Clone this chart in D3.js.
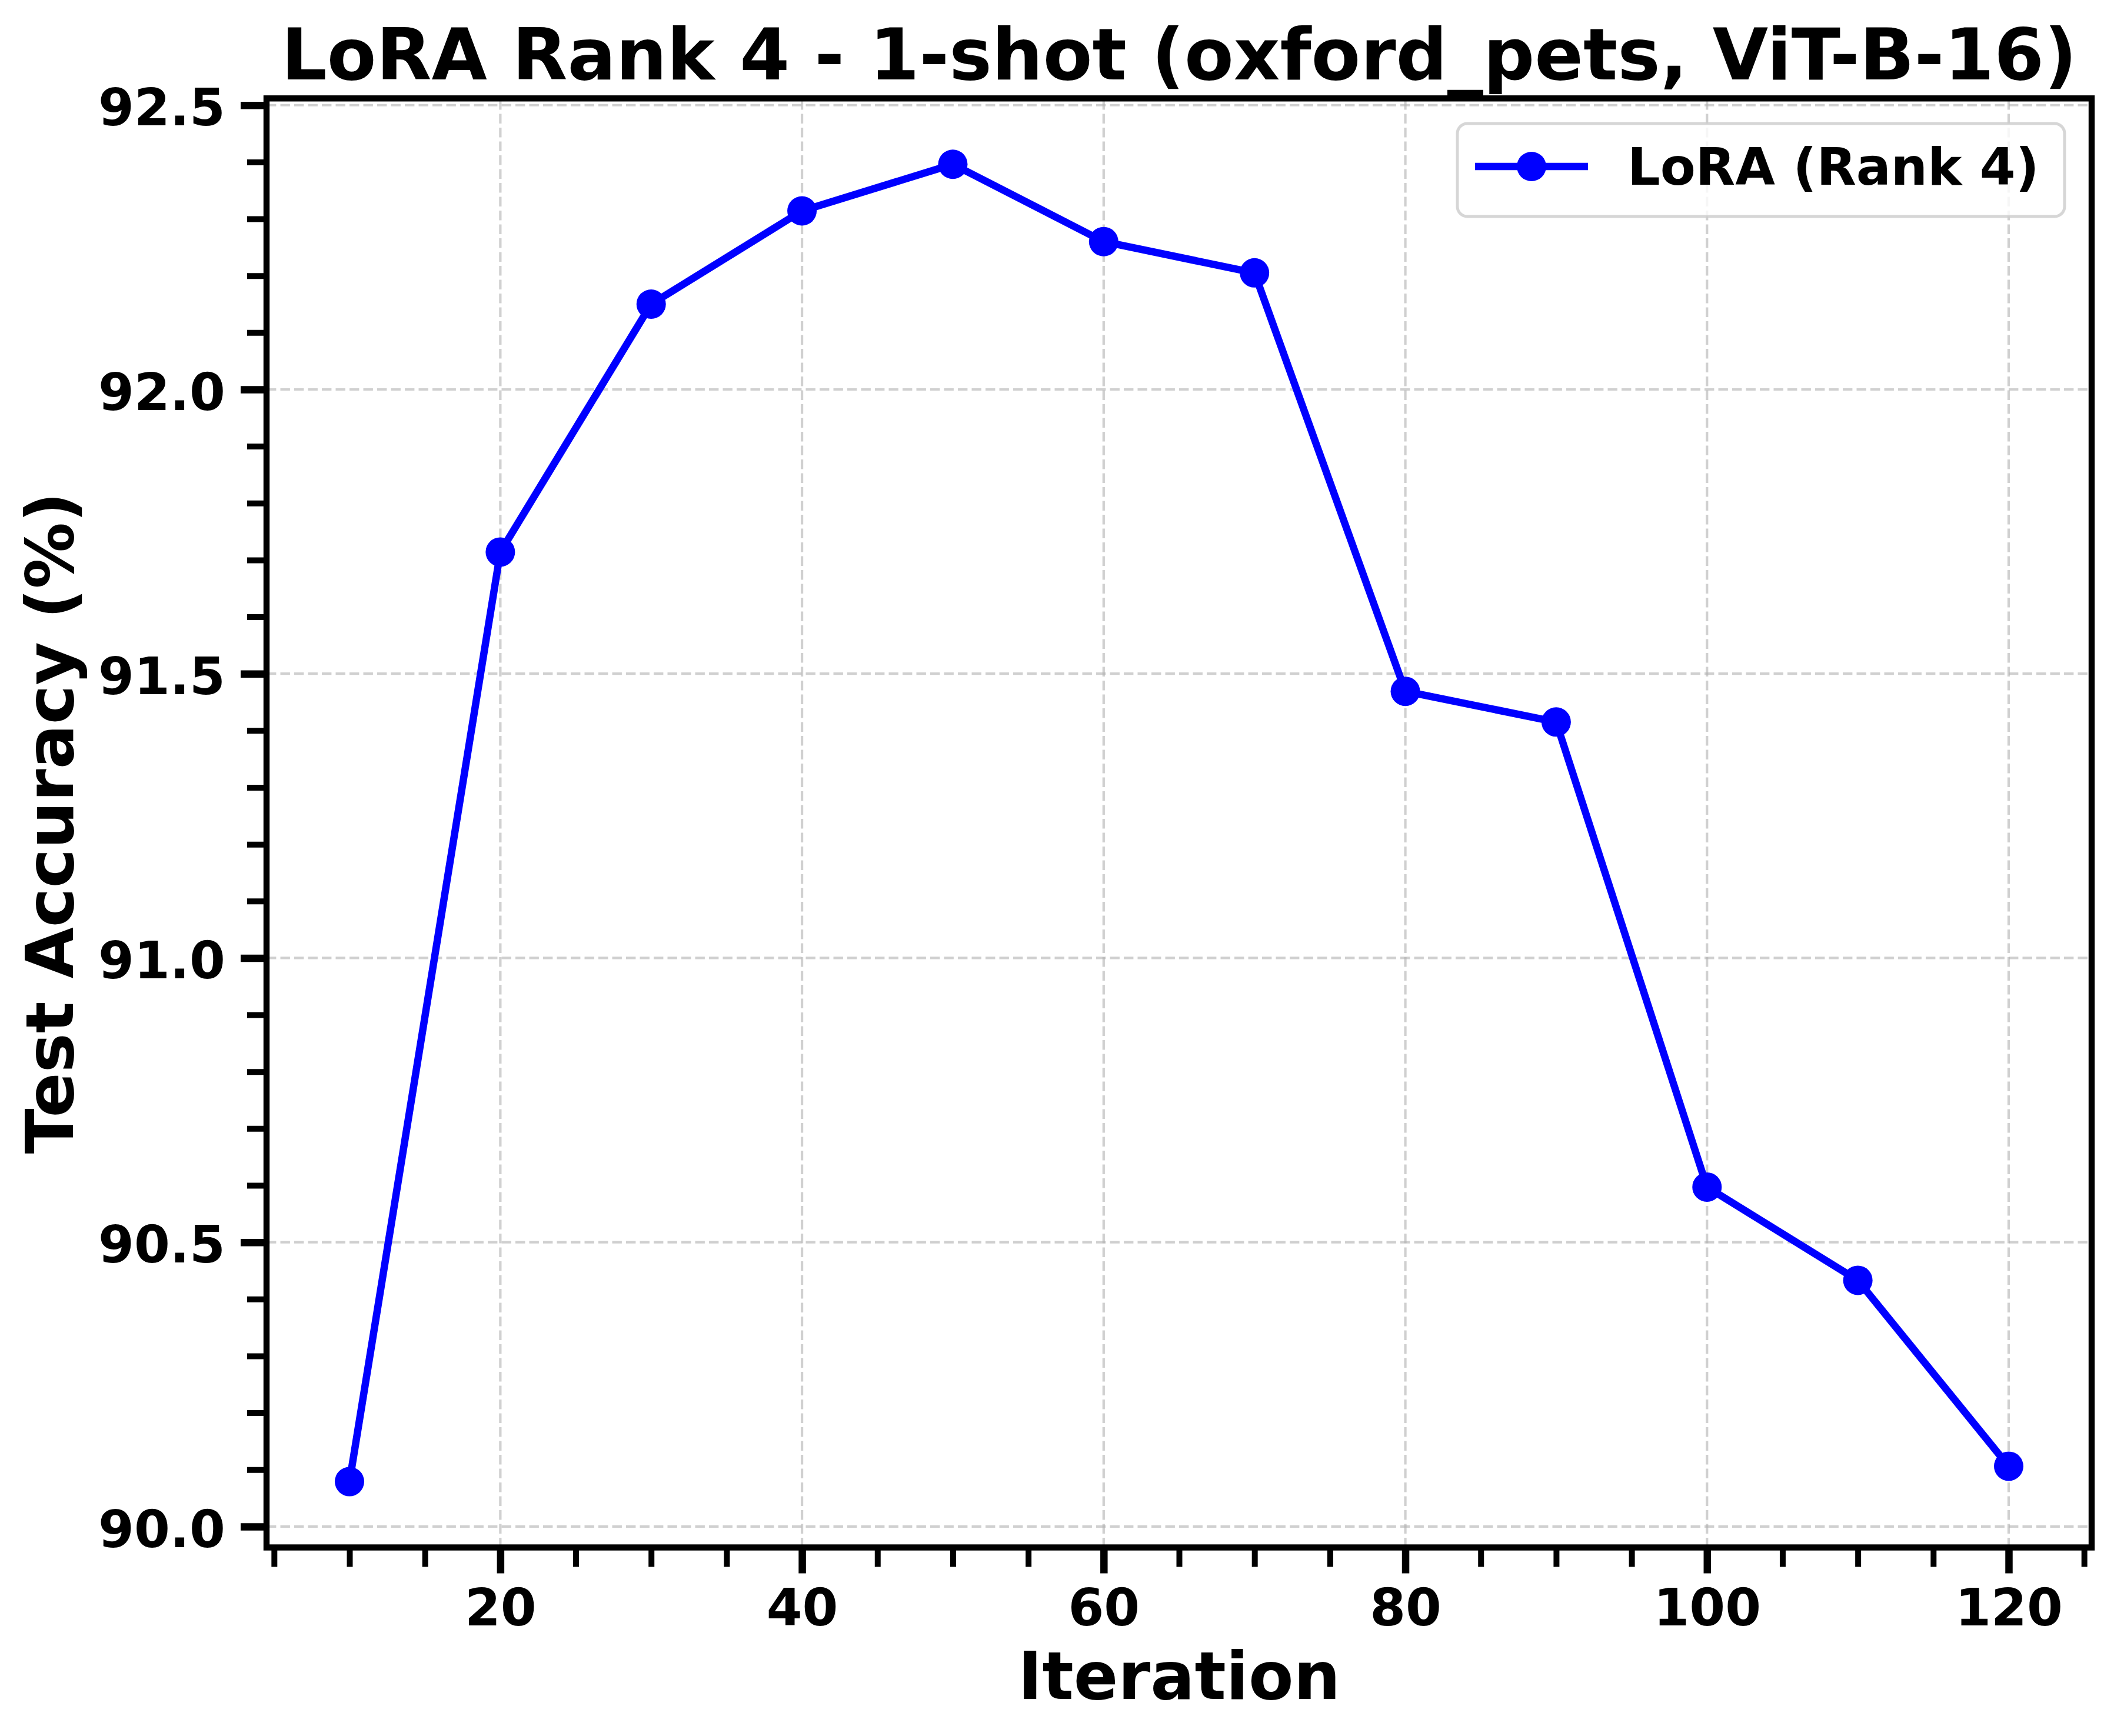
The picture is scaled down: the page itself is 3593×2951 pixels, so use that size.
<!DOCTYPE html>
<html>
<head>
<meta charset="utf-8">
<script src="https://cdn.jsdelivr.net/npm/d3@7"></script>
<style>
  html, body { margin: 0; padding: 0; background: #ffffff; }
  svg { display: block; }
</style>
</head>
<body>
<script>
// ---- data ----
const iterations = [10, 20, 30, 40, 50, 60, 70, 80, 90, 100, 110, 120];
const accuracy = [90.079, 91.714, 92.150, 92.314, 92.396, 92.260, 92.205, 91.469, 91.415, 90.597, 90.433, 90.106];
const xTickValues = [20, 40, 60, 80, 100, 120];
const yTickValues = [90.0, 90.5, 91.0, 91.5, 92.0, 92.5];
const seriesName = "LoRA (Rank 4)";
const titleText = "LoRA Rank 4 - 1-shot (oxford_pets, ViT-B-16)";
const xLabelText = "Iteration";
const yLabelText = "Test Accuracy (%)";

// ---- layout ----
const W = 3593, H = 2951;
const plot = { left: 453, right: 3555, top: 167.3, bottom: 2630.5 };
const FONT = "'DejaVu Sans', sans-serif";
const BLUE = "#0000ff";

const svg = d3.select("body").append("svg")
  .attr("width", W).attr("height", H)
  .attr("viewBox", `0 0 ${W} ${H}`);
svg.append("rect").attr("width", W).attr("height", H).attr("fill", "#ffffff");

// matplotlib-like 5% margins
const xExt = d3.extent(iterations), yExt = d3.extent(accuracy);
const xPad = (xExt[1] - xExt[0]) * 0.05, yPad = (yExt[1] - yExt[0]) * 0.05;
const x = d3.scaleLinear().domain([xExt[0] - xPad, xExt[1] + xPad]).range([plot.left, plot.right]);
const y = d3.scaleLinear().domain([yExt[0] - yPad, yExt[1] + yPad]).range([plot.bottom, plot.top]);

const xMinor = d3.range(5, 126, 5).filter(v => !xTickValues.includes(v) && v >= x.domain()[0] && v <= x.domain()[1]);
const yMinor = d3.range(900, 926, 1).map(v => v / 10)
  .filter(v => !yTickValues.some(t => Math.abs(t - v) < 1e-9) && v >= y.domain()[0] && v <= y.domain()[1]);

// ---- grid ----
const grid = svg.append("g").attr("class", "grid")
  .attr("stroke", "#b0b0b0").attr("stroke-opacity", 0.6)
  .attr("stroke-width", 4.2).attr("stroke-dasharray", "16.4,7.1");
grid.selectAll("line.h").data(yTickValues).join("line").attr("class", "h")
  .attr("x1", plot.left).attr("x2", plot.right)
  .attr("y1", d => y(d)).attr("y2", d => y(d));
grid.selectAll("line.v").data(xTickValues).join("line").attr("class", "v")
  .attr("x1", d => x(d)).attr("x2", d => x(d))
  .attr("y1", plot.bottom).attr("y2", plot.top);

// ---- series ----
const pts = iterations.map((d, i) => ({ x: d, y: accuracy[i] }));
svg.append("path").datum(pts)
  .attr("fill", "none").attr("stroke", BLUE).attr("stroke-width", 12.5)
  .attr("stroke-linejoin", "round")
  .attr("d", d3.line().x(d => x(d.x)).y(d => y(d.y)));
svg.append("g").selectAll("circle").data(pts).join("circle")
  .attr("cx", d => x(d.x)).attr("cy", d => y(d.y)).attr("r", 25).attr("fill", BLUE);

// ---- axes ----
function styleAxis(g, width, fontSize) {
  g.select(".domain").remove();
  g.attr("font-family", FONT).attr("font-size", fontSize).attr("font-weight", "bold");
  g.selectAll(".tick line").attr("stroke", "#000").attr("stroke-width", width);
  g.selectAll(".tick text").attr("fill", "#000");
}
// minor
const gxMinor = svg.append("g").attr("transform", `translate(0,${plot.bottom})`)
  .call(d3.axisBottom(x).tickValues(xMinor).tickSize(33).tickFormat(""));
styleAxis(gxMinor, 10, 0);
const gyMinor = svg.append("g").attr("transform", `translate(${plot.left},0)`)
  .call(d3.axisLeft(y).tickValues(yMinor).tickSize(33).tickFormat(""));
styleAxis(gyMinor, 10, 0);
// major
const gx = svg.append("g").attr("transform", `translate(0,${plot.bottom})`)
  .call(d3.axisBottom(x).tickValues(xTickValues).tickSize(44).tickPadding(26).tickFormat(d3.format("d")));
styleAxis(gx, 12.5, 87.5);
const gy = svg.append("g").attr("transform", `translate(${plot.left},0)`)
  .call(d3.axisLeft(y).tickValues(yTickValues).tickSize(44).tickPadding(26).tickFormat(d3.format(".1f")));
styleAxis(gy, 12.5, 87.5);
gy.selectAll(".tick text").attr("dy", "0.39em");

// ---- spines ----
svg.append("rect")
  .attr("x", plot.left).attr("y", plot.top)
  .attr("width", plot.right - plot.left).attr("height", plot.bottom - plot.top)
  .attr("fill", "none").attr("stroke", "#000").attr("stroke-width", 10.4);

// ---- labels ----
svg.append("text").text(titleText)
  .attr("x", (plot.left + plot.right) / 2).attr("y", 135)
  .attr("text-anchor", "middle").attr("font-family", FONT).attr("font-weight", "bold")
  .attr("font-size", 122).attr("fill", "#000");
svg.append("text").text(xLabelText)
  .attr("x", (plot.left + plot.right) / 2).attr("y", 2888)
  .attr("text-anchor", "middle").attr("font-family", FONT).attr("font-weight", "bold")
  .attr("font-size", 111.5).attr("fill", "#000");
svg.append("text").text(yLabelText)
  .attr("transform", `translate(124,${(plot.top + plot.bottom) / 2}) rotate(-90)`)
  .attr("text-anchor", "middle").attr("font-family", FONT).attr("font-weight", "bold")
  .attr("font-size", 112.5).attr("fill", "#000");

// ---- legend ----
const lg = svg.append("g").attr("class", "legend");
lg.append("rect").attr("x", 2477).attr("y", 210).attr("width", 1032).attr("height", 158)
  .attr("rx", 17).attr("ry", 17)
  .attr("fill", "#ffffff").attr("fill-opacity", 0.8)
  .attr("stroke", "#cccccc").attr("stroke-opacity", 0.8).attr("stroke-width", 5);
lg.append("line").attr("x1", 2507).attr("x2", 2699).attr("y1", 283).attr("y2", 283)
  .attr("stroke", BLUE).attr("stroke-width", 12.5);
lg.append("circle").attr("cx", 2603).attr("cy", 283).attr("r", 25).attr("fill", BLUE);
lg.append("text").text(seriesName).attr("x", 2766).attr("y", 314)
  .attr("font-family", FONT).attr("font-weight", "bold").attr("font-size", 87.5).attr("fill", "#000");
</script>
</body>
</html>
